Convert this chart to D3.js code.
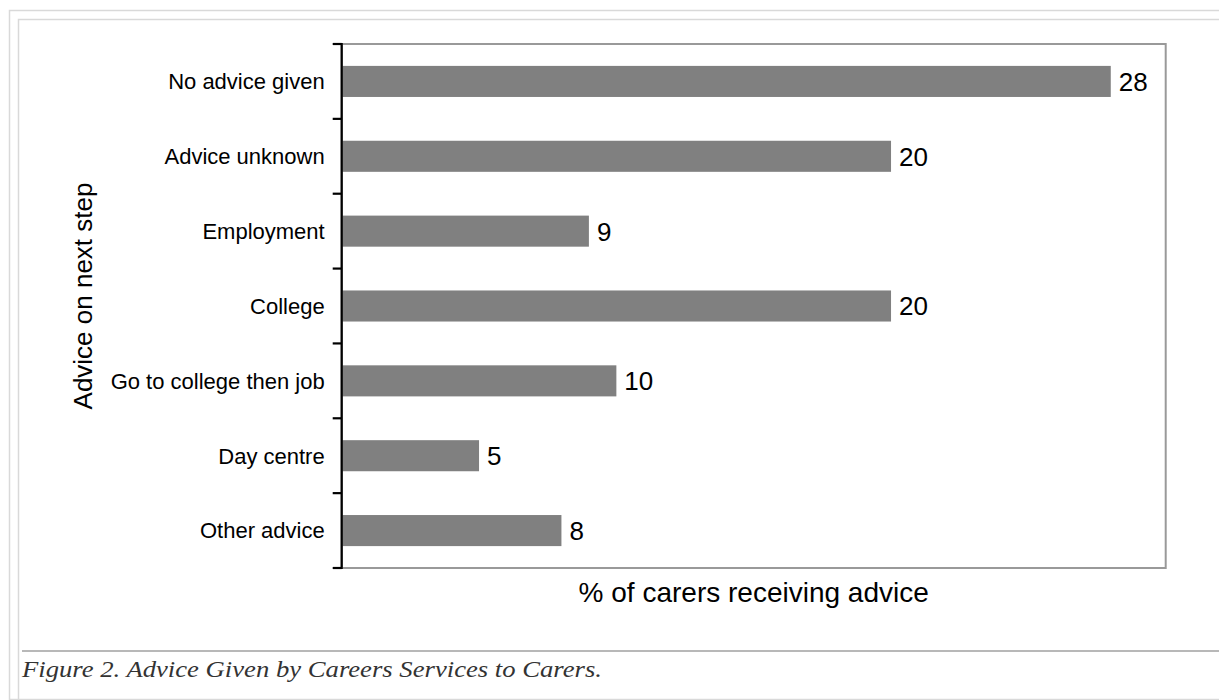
<!DOCTYPE html>
<html><head><meta charset="utf-8">
<script src="https://cdn.jsdelivr.net/npm/d3@7"></script>
<style>
html,body{margin:0;padding:0;background:#fff;}
svg{display:block;}
</style></head>
<body>
<svg id="chart" width="1219" height="700"></svg>
<script>
const categories = ["No advice given","Advice unknown","Employment","College","Go to college then job","Day centre","Other advice"];
const values = [28, 20, 9, 20, 10, 5, 8];
const xDomain = [0, 30];
const xTitle = "% of carers receiving advice";
const yTitle = "Advice on next step";
const caption = "Figure 2. Advice Given by Careers Services to Carers.";

const svg = d3.select("#chart");
const W = 1219, H = 700;
const plot = {left: 341.7, right: 1165.7, top: 44, bottom: 568};

// page frames
svg.append("rect").attr("x", 9.5).attr("y", 10.5).attr("width", W + 20).attr("height", H - 11)
  .attr("fill", "none").attr("stroke", "#d9d9d9").attr("stroke-width", 1.5);
svg.append("rect").attr("x", 18.5).attr("y", 19.5).attr("width", W + 20).attr("height", H + 20)
  .attr("fill", "none").attr("stroke", "#d9d9d9").attr("stroke-width", 1.5);
svg.append("line").attr("x1", 22).attr("x2", W).attr("y1", 651).attr("y2", 651)
  .attr("stroke", "#a0a0a0").attr("stroke-width", 1.5);

const x = d3.scaleLinear().domain(xDomain).range([plot.left, plot.right]);
const y = d3.scaleBand().domain(categories).range([plot.top, plot.bottom])
  .paddingInner(0.585).paddingOuter(0.2925);
const step = y.step();

// plot area border
svg.append("rect").attr("x", plot.left).attr("y", plot.top)
  .attr("width", plot.right - plot.left).attr("height", plot.bottom - plot.top)
  .attr("fill", "none").attr("stroke", "#999").attr("stroke-width", 2);

// bars
svg.append("g").selectAll("rect").data(categories).join("rect")
  .attr("x", x(0)).attr("y", d => y(d))
  .attr("width", (d, i) => x(values[i]) - x(0))
  .attr("height", y.bandwidth())
  .attr("fill", "#808080");

// value labels
svg.append("g").selectAll("text").data(categories).join("text")
  .attr("x", (d, i) => x(values[i]) + 8)
  .attr("y", d => y(d) + y.bandwidth() / 2)
  .attr("dy", "0.36em")
  .attr("font-family", "Liberation Sans, Arial, sans-serif")
  .attr("font-size", 26)
  .attr("fill", "#000")
  .text((d, i) => values[i]);

// y axis line and ticks at band boundaries
const boundaries = categories.map(d => y(d) - step * y.paddingInner() / 2).concat([plot.bottom]);
const ax = svg.append("g");
ax.append("line").attr("x1", plot.left).attr("x2", plot.left).attr("y1", plot.top - 1).attr("y2", plot.bottom + 1)
  .attr("stroke", "#000").attr("stroke-width", 2.2);
ax.selectAll("line.tick").data(boundaries).join("line").attr("class", "tick")
  .attr("x1", plot.left - 9).attr("x2", plot.left).attr("y1", d => d).attr("y2", d => d)
  .attr("stroke", "#000").attr("stroke-width", 2.2);

// category labels
svg.append("g").selectAll("text").data(categories).join("text")
  .attr("x", plot.left - 17)
  .attr("y", d => y(d) + y.bandwidth() / 2)
  .attr("dy", "0.36em")
  .attr("text-anchor", "end")
  .attr("font-family", "Liberation Sans, Arial, sans-serif")
  .attr("font-size", 22)
  .attr("fill", "#000")
  .text(d => d);

// axis titles
svg.append("text")
  .attr("x", (plot.left + plot.right) / 2).attr("y", 602)
  .attr("text-anchor", "middle")
  .attr("font-family", "Liberation Sans, Arial, sans-serif")
  .attr("font-size", 28).attr("fill", "#000")
  .text(xTitle);
svg.append("text")
  .attr("transform", "translate(92," + 296 + ") rotate(-90)")
  .attr("text-anchor", "middle")
  .attr("font-family", "Liberation Sans, Arial, sans-serif")
  .attr("font-size", 26).attr("fill", "#000")
  .text(yTitle);

// caption
svg.append("text")
  .attr("x", 22).attr("y", 677)
  .attr("font-family", "Liberation Serif, serif")
  .attr("font-style", "italic")
  .attr("font-size", 23).attr("fill", "#333")
  .attr("textLength", 580).attr("lengthAdjust", "spacingAndGlyphs")
  .text(caption);
</script>
</body></html>
